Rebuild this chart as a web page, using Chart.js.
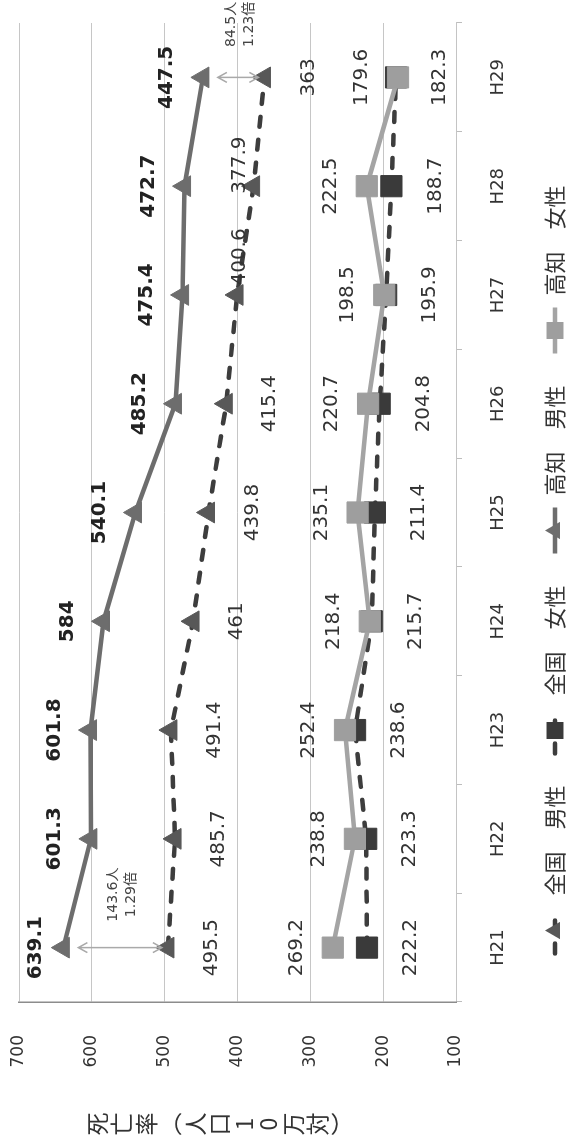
<!DOCTYPE html>
<html lang="ja">
<head>
<meta charset="utf-8">
<script src="https://cdn.jsdelivr.net/npm/chart.js@4.4.1/dist/chart.umd.min.js"></script>
<style>
  html, body { margin: 0; padding: 0; background: #fff; width: 569px; height: 1141px; overflow: hidden; }
  /* landscape chart turned a quarter turn counter-clockwise to fit the portrait page */
  #wrap { position: absolute; left: 0; top: 0; width: 1141px; height: 569px;
          transform-origin: 0 0; transform: translateY(1141px) rotate(-90deg); }
  canvas { display: block; }
</style>
</head>
<body>
<div id="wrap"><canvas id="c" width="1141" height="569"></canvas></div>
<script>
// 死亡率（人口10万対） H21〜H29
const categories = ['H21', 'H22', 'H23', 'H24', 'H25', 'H26', 'H27', 'H28', 'H29'];
const nationalMale   = [495.5, 485.7, 491.4, 461, 439.8, 415.4, 400.6, 377.9, 363];
const nationalFemale = [222.2, 223.3, 238.6, 215.7, 211.4, 204.8, 195.9, 188.7, 182.3];
const kochiMale      = [639.1, 601.3, 601.8, 584, 540.1, 485.2, 475.4, 472.7, 447.5];
const kochiFemale    = [269.2, 238.8, 252.4, 218.4, 235.1, 220.7, 198.5, 222.5, 179.6];
const yTicks = [100, 200, 300, 400, 500, 600, 700];
const gapYears = [0, 8];           // years where the 高知/全国 male gap is annotated
const axisTitle = '死亡率︵人口10万対︶';

// hand-placed labels that sit off their usual spot ("dataset-index": [dx, dy])
const labelNudges = { '0-6': [38, -41], '0-7': [21, -58], '2-0': [0, 8] };

const NUM_FONT = '"DejaVu Sans", "Noto Sans CJK JP", sans-serif';
const JP_FONT = '"Noto Sans CJK JP", "DejaVu Sans", sans-serif';

// value labels next to every point
const valueLabels = {
  id: 'valueLabels',
  afterDatasetsDraw(chart) {
    const ctx = chart.ctx;
    chart.data.datasets.forEach((ds, di) => {
      const meta = chart.getDatasetMeta(di);
      ctx.save();
      ctx.font = (ds.labelBold ? 'bold ' : '') + '20px ' + NUM_FONT;
      ctx.fillStyle = ds.labelBold ? '#222' : '#333';
      ctx.textAlign = 'center';
      ctx.textBaseline = 'middle';
      meta.data.forEach((pt, i) => {
        const [dx, dy] = labelNudges[di + '-' + i] || [0, 0];
        ctx.fillText(String(ds.data[i]), pt.x + dx, pt.y + ds.labelOffset + dy);
      });
      ctx.restore();
    });
  }
};

// double arrow + difference / ratio between 高知 男性 and 全国 男性
const gapNotes = {
  id: 'gapNotes',
  afterDatasetsDraw(chart) {
    const ctx = chart.ctx;
    const xs = chart.scales.x, ys = chart.scales.y;
    gapYears.forEach(i => {
      const x = xs.getPixelForValue(i);
      const yTop = ys.getPixelForValue(kochiMale[i]);
      const yBot = ys.getPixelForValue(nationalMale[i]);
      const a = yTop + 15, b = yBot - 6;
      ctx.save();
      ctx.strokeStyle = '#a9a9a9';
      ctx.lineWidth = 1.5;
      ctx.beginPath();
      ctx.moveTo(x, a); ctx.lineTo(x, b);
      ctx.moveTo(x - 5, a + 9); ctx.lineTo(x, a); ctx.lineTo(x + 5, a + 9);
      ctx.moveTo(x - 5, b - 9); ctx.lineTo(x, b); ctx.lineTo(x + 5, b - 9);
      ctx.stroke();
      const mid = (yTop + yBot) / 2;
      const diff = (kochiMale[i] - nationalMale[i]).toFixed(1) + '人';
      const ratio = (kochiMale[i] / nationalMale[i]).toFixed(2) + '倍';
      ctx.fillStyle = '#444';
      ctx.font = '14px ' + NUM_FONT;
      ctx.textAlign = 'center';
      ctx.textBaseline = 'middle';
      ctx.fillText(diff, x + 53, mid - 2);
      ctx.fillText(ratio, x + 53, mid + 16);
      ctx.restore();
    });
  }
};

// stacked vertical axis title
const stackedTitle = {
  id: 'stackedTitle',
  afterDraw(chart) {
    const ctx = chart.ctx;
    const chars = Array.from(axisTitle);
    const step = 24.5;
    const a = chart.chartArea;
    const cy = (a.top + a.bottom) / 2 - 18;
    const start = cy - (chars.length * step) / 2 + step / 2;
    ctx.save();
    ctx.font = '23px ' + JP_FONT;
    ctx.fillStyle = '#333';
    ctx.textAlign = 'center';
    ctx.textBaseline = 'middle';
    chars.forEach((c, k) => ctx.fillText(c, 17, start + k * step));
    ctx.restore();
  }
};

function drawMarker(ctx, style, cx, cy, r, color) {
  ctx.fillStyle = color;
  ctx.beginPath();
  if (style === 'triangle') {
    ctx.moveTo(cx, cy - r);
    ctx.lineTo(cx + r * 0.866, cy + r / 2);
    ctx.lineTo(cx - r * 0.866, cy + r / 2);
    ctx.closePath();
  } else {
    const h = r * Math.SQRT1_2;
    ctx.rect(cx - h, cy - h, 2 * h, 2 * h);
  }
  ctx.fill();
}

// legend row: line sample with marker, then label
const lineLegend = {
  id: 'lineLegend',
  afterDraw(chart) {
    const ctx = chart.ctx;
    const dsets = chart.data.datasets;
    const markerW = 50, gap = 10, spacing = 30, y = 555;
    ctx.save();
    ctx.font = '22px ' + JP_FONT;
    const widths = dsets.map(ds => ctx.measureText(ds.label).width);
    const total = widths.reduce((s, w) => s + markerW + gap + w, 0) + spacing * (dsets.length - 1);
    let x = (chart.width - total) / 2;
    dsets.forEach((ds, i) => {
      ctx.save();
      ctx.strokeStyle = ds.borderColor;
      ctx.lineWidth = 4.5;
      ctx.lineCap = ds.borderDash.length ? 'round' : 'butt';
      ctx.setLineDash(ds.borderDash.length ? [10, 13] : []);
      ctx.beginPath();
      ctx.moveTo(x + 2, y); ctx.lineTo(x + markerW - 2, y);
      ctx.stroke();
      ctx.restore();
      drawMarker(ctx, ds.pointStyle, x + markerW / 2, y, ds.pointStyle === 'triangle' ? 10 : 12, ds.pointBackgroundColor);
      ctx.fillStyle = '#333';
      ctx.textAlign = 'left';
      ctx.textBaseline = 'middle';
      ctx.fillText(ds.label, x + markerW + gap, y);
      x += markerW + gap + widths[i] + spacing;
    });
    ctx.restore();
  }
};

const series = (label, data, color, dashed, style, pointColor, labelOffset, labelBold, order) => ({
  label, data, order,
  borderColor: color,
  borderWidth: 4.5,
  borderDash: dashed ? [10, 13] : [],
  borderCapStyle: dashed ? 'round' : 'butt',
  borderJoinStyle: 'round',
  pointStyle: style,
  pointRadius: style === 'triangle' ? 12 : 15,
  pointBackgroundColor: pointColor,
  pointBorderColor: pointColor,
  pointBorderWidth: 1,
  tension: 0,
  fill: false,
  labelOffset, labelBold
});

new Chart(document.getElementById('c'), {
  type: 'line',
  data: {
    labels: categories,
    datasets: [
      series('全国　男性', nationalMale, '#3d3d3d', true, 'triangle', '#585858', 44, false, 0),
      series('全国　女性', nationalFemale, '#3d3d3d', true, 'rect', '#3a3a3a', 44, false, 3),
      series('高知　男性', kochiMale, '#6d6d6d', false, 'triangle', '#6d6d6d', -36, true, 1),
      series('高知　女性', kochiFemale, '#a4a4a4', false, 'rect', '#9e9e9e', -36, false, 2)
    ]
  },
  options: {
    responsive: false,
    animation: false,
    devicePixelRatio: 1,
    layout: { autoPadding: false, padding: { left: 0, right: 23, top: 19, bottom: 0 } },
    plugins: { legend: { display: false }, tooltip: { enabled: false } },
    scales: {
      x: {
        offset: true,
        grid: { offset: true, drawOnChartArea: false, drawTicks: true, tickLength: 6, color: '#bdbdbd' },
        border: { color: '#c4c4c4', width: 1 },
        ticks: { font: { size: 18, family: NUM_FONT }, color: '#333', padding: 26, maxRotation: 0 },
        afterFit(s) { s.height = 113; s.paddingLeft = 0; s.paddingRight = 0; }
      },
      y: {
        min: yTicks[0], max: yTicks[yTicks.length - 1],
        afterBuildTicks(s) { s.ticks = yTicks.map(v => ({ value: v })); },
        grid: { color: '#c6c6c6', lineWidth: 1, drawTicks: false },
        border: { color: '#8c8c8c', width: 1.5 },
        ticks: { font: { size: 17, family: NUM_FONT }, color: '#333', padding: 33 },
        afterFit(s) { s.width = 139; s.paddingTop = 0; s.paddingBottom = 0; }
      }
    }
  },
  plugins: [valueLabels, gapNotes, stackedTitle, lineLegend]
});
</script>
</body>
</html>
